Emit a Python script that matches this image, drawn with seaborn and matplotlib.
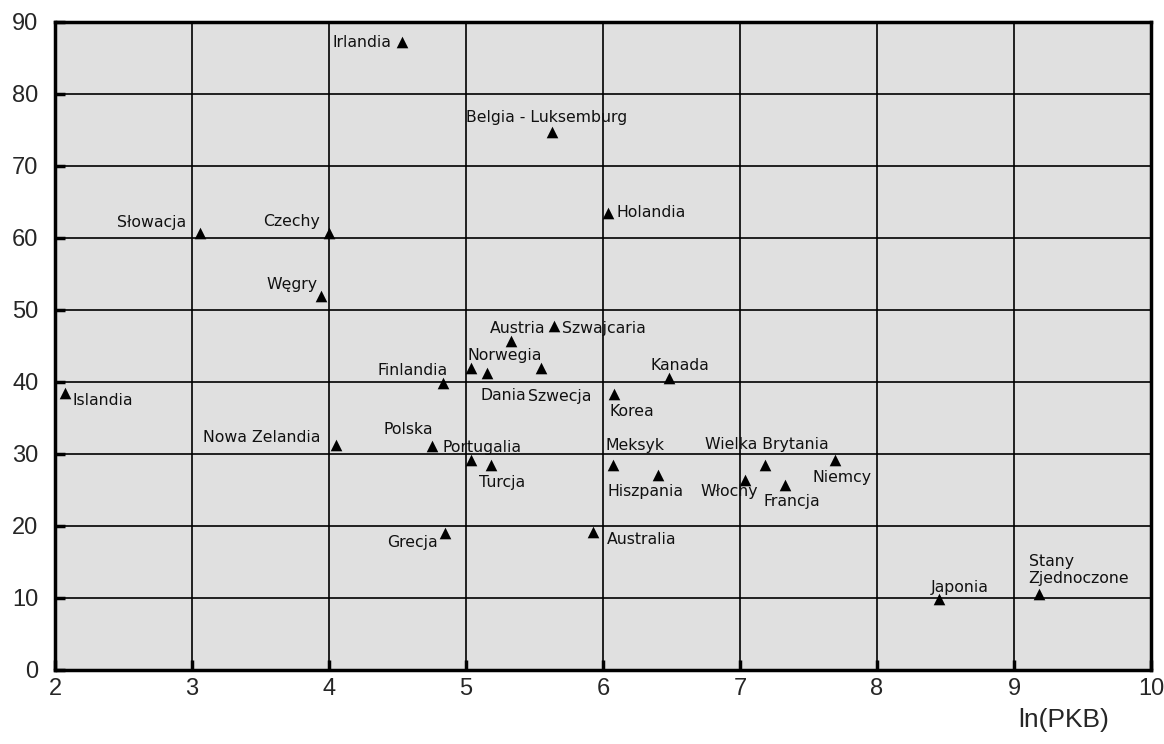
import matplotlib
matplotlib.use("Agg")
import matplotlib.pyplot as plt
import seaborn as sns
import pandas as pd

countries = ["Irlandia", "Belgia - Luksemburg", "Holandia", "Słowacja", "Czechy", "Węgry",
             "Austria", "Szwajcaria", "Norwegia", "Dania", "Szwecja", "Finlandia", "Islandia",
             "Nowa Zelandia", "Polska", "Portugalia", "Turcja", "Korea", "Kanada", "Meksyk",
             "Hiszpania", "Włochy", "Wielka Brytania", "Francja", "Niemcy", "Grecja",
             "Australia", "Japonia", "Stany\nZjednoczone"]
ln_pkb = [4.53, 5.63, 6.04, 3.06, 4.00, 3.94,
          5.33, 5.64, 5.04, 5.15, 5.55, 4.83, 2.07,
          4.05, 4.75, 5.04, 5.18, 6.08, 6.48, 6.07,
          6.40, 7.04, 7.18, 7.33, 7.69, 4.85,
          5.93, 8.45, 9.18]
values = [87.2, 74.7, 63.5, 60.7, 60.7, 51.9,
          45.7, 47.8, 41.9, 41.3, 41.9, 39.9, 38.5,
          31.2, 31.1, 29.2, 28.5, 38.3, 40.6, 28.5,
          27.1, 26.4, 28.5, 25.7, 29.2, 19.0,
          19.2, 9.9, 10.6]
x_ticks = [2, 3, 4, 5, 6, 7, 8, 9, 10]
y_ticks = [0, 10, 20, 30, 40, 50, 60, 70, 80, 90]
x_label = "ln(PKB)"

# label placement (pixel offsets, alignment) - style only
label_style = {
    "Irlandia": (-10, 0, "right", "center"),
    "Belgia - Luksemburg": (-6, 15, "center", "center"),
    "Holandia": (8, 0, "left", "center"),
    "Słowacja": (-14, 10, "right", "center"),
    "Czechy": (-9, 11, "right", "center"),
    "Węgry": (-3, 12, "right", "center"),
    "Austria": (6, 12, "center", "center"),
    "Szwajcaria": (8, -3, "left", "center"),
    "Norwegia": (-4, 13, "left", "center"),
    "Dania": (-6, -23, "left", "center"),
    "Szwecja": (-13, -28, "left", "center"),
    "Finlandia": (5, 12, "right", "center"),
    "Islandia": (8, -8, "left", "center"),
    "Nowa Zelandia": (-15, 8, "right", "center"),
    "Polska": (1, 17, "right", "center"),
    "Portugalia": (-29, 12, "left", "center"),
    "Turcja": (-12, -18, "left", "center"),
    "Korea": (-4, -17, "left", "center"),
    "Kanada": (-18, 12, "left", "center"),
    "Meksyk": (-7, 19, "left", "center"),
    "Hiszpania": (-50, -17, "left", "center"),
    "Włochy": (13, -12, "right", "center"),
    "Wielka Brytania": (2, 20, "center", "center"),
    "Francja": (-22, -17, "left", "center"),
    "Niemcy": (-22, -18, "left", "center"),
    "Grecja": (-8, -9, "right", "center"),
    "Australia": (13, -8, "left", "center"),
    "Japonia": (-8, 11, "left", "center"),
    "Stany\nZjednoczone": (-10, 8, "left", "bottom"),
}

df = pd.DataFrame({"country": countries, "ln_pkb": ln_pkb, "value": values})

sns.set_theme(style="white")
plt.rcParams["font.family"] = ["Liberation Sans", "DejaVu Sans"]

fig = plt.figure(figsize=(11.64, 7.44), dpi=100)
ax = fig.add_axes([55 / 1164, 74 / 744, (1151 - 55) / 1164, (670 - 22) / 744])
ax.set_facecolor("#e0e0e0")

sns.scatterplot(data=df, x="ln_pkb", y="value", marker="^", color="black",
                s=70, edgecolor="black", linewidth=0, ax=ax, zorder=3)

ax.set_xlim(2, 10)
ax.set_ylim(0, 90)
ax.set_xticks(x_ticks)
ax.set_yticks(y_ticks)
ax.set_xticklabels([str(t) for t in x_ticks], fontsize=17)
ax.set_yticklabels([str(t) for t in y_ticks], fontsize=17)
ax.grid(True, color="black", linewidth=1.2)
ax.set_axisbelow(True)
ax.tick_params(axis="both", direction="in", length=7, width=2.5, color="black",
               bottom=True, left=True)
ax.tick_params(axis="y", pad=12)
ax.tick_params(axis="x", pad=6)
for sp in ax.spines.values():
    sp.set_visible(True)
    sp.set_color("black")
    sp.set_linewidth(2.5)
ax.set_xlabel("")
ax.set_ylabel("")

for _, row in df.iterrows():
    dx, dy, ha, va = label_style[row["country"]]
    ax.annotate(row["country"], (row["ln_pkb"], row["value"]),
                xytext=(dx * 0.72, dy * 0.72), textcoords="offset points",
                ha=ha, va=va, fontsize=11.3, color="#111111",
                family=["DejaVu Sans"], linespacing=1.15, zorder=4)

fig.text(1064 / 1164, 1 - 720 / 744, x_label, fontsize=19, ha="center", va="center")

fig.savefig("out.png", dpi=100, facecolor="white")
